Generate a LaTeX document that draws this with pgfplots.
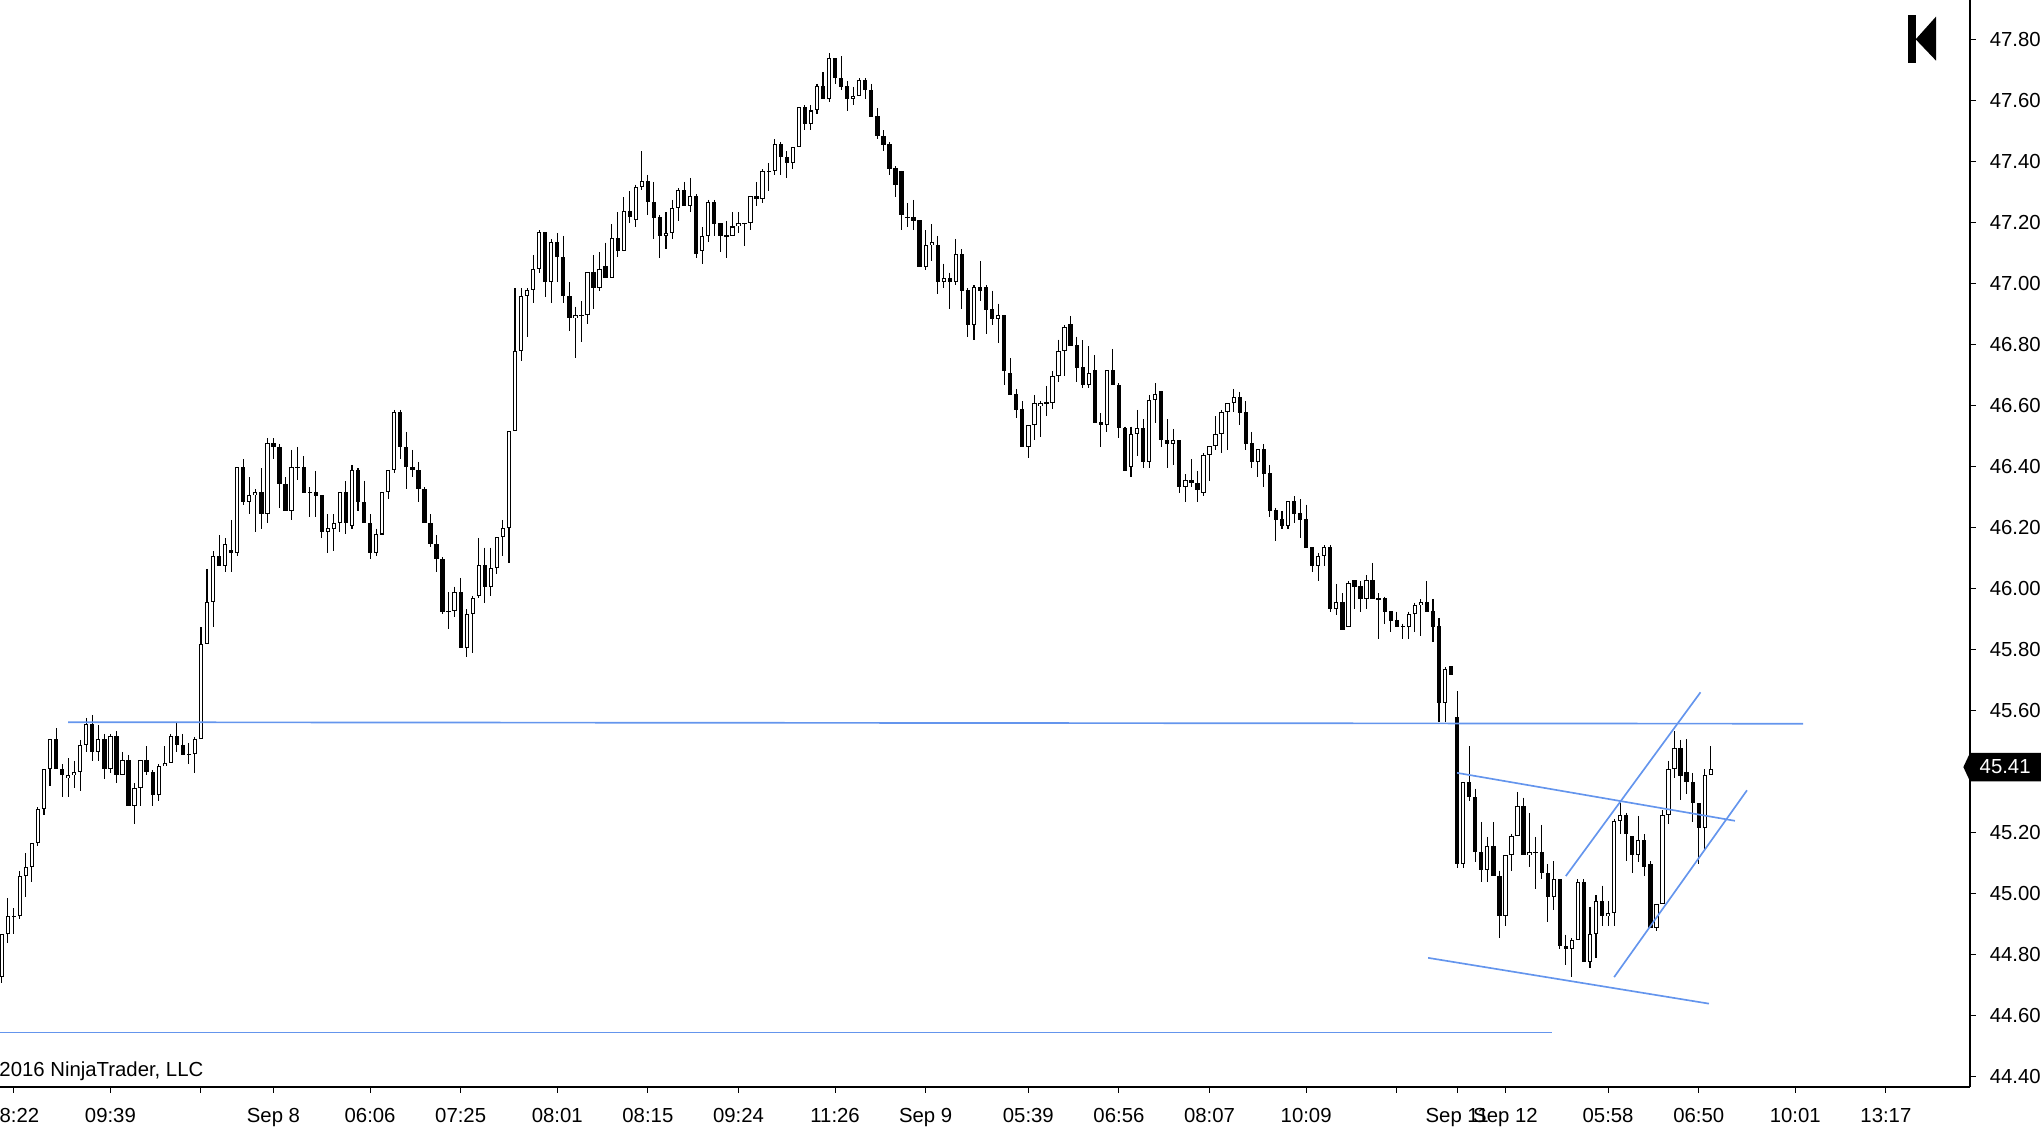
\documentclass[border=0pt]{standalone}
\usepackage{pgfplots}
\pgfplotsset{compat=1.18}
\usepackage{pgfplotstable}
\usepackage{fontspec}
\setmainfont{Liberation Sans}
\definecolor{drawblue}{RGB}{100,149,237}

\pgfplotstableread{
i o h l c
0 44.727 44.867 44.707 44.867
1 44.867 44.985 44.838 44.926
2 44.926 44.953 44.867 44.926
3 44.926 45.073 44.917 45.057
4 45.057 45.133 44.989 45.087
5 45.087 45.165 45.037 45.165
6 45.165 45.283 45.157 45.277
7 45.277 45.408 45.257 45.408
8 45.408 45.506 45.354 45.506
9 45.506 45.542 45.408 45.408
10 45.408 45.425 45.316 45.388
11 45.378 45.444 45.316 45.388
12 45.388 45.435 45.345 45.398
13 45.398 45.504 45.335 45.486
14 45.486 45.576 45.466 45.556
15 45.556 45.586 45.436 45.466
16 45.466 45.553 45.436 45.506
17 45.506 45.524 45.377 45.408
18 45.408 45.524 45.397 45.516
19 45.516 45.533 45.364 45.388
20 45.388 45.465 45.388 45.437
21 45.437 45.455 45.286 45.286
22 45.286 45.362 45.227 45.346
23 45.346 45.437 45.286 45.437
24 45.437 45.484 45.388 45.398
25 45.398 45.406 45.286 45.325
26 45.325 45.425 45.305 45.418
27 45.418 45.484 45.418 45.428
28 45.428 45.524 45.428 45.516
29 45.516 45.561 45.466 45.486
30 45.486 45.524 45.456 45.456
31 45.457 45.494 45.426 45.457
32 45.457 45.514 45.397 45.506
33 45.506 45.873 45.506 45.817
34 45.817 46.064 45.817 45.955
35 45.955 46.122 45.875 46.106
36 46.106 46.174 46.075 46.075
37 46.075 46.164 46.055 46.145
38 46.125 46.225 46.055 46.115
39 46.115 46.397 46.106 46.397
40 46.397 46.424 46.275 46.285
41 46.285 46.364 46.245 46.305
42 46.305 46.325 46.186 46.315
43 46.315 46.394 46.196 46.245
44 46.245 46.492 46.216 46.476
45 46.476 46.492 46.424 46.465
46 46.465 46.473 46.265 46.344
47 46.344 46.364 46.255 46.255
48 46.255 46.454 46.226 46.397
49 46.397 46.464 46.354 46.397
50 46.397 46.434 46.314 46.314
51 46.315 46.332 46.235 46.315
52 46.315 46.385 46.235 46.304
53 46.305 46.305 46.167 46.186
54 46.186 46.244 46.115 46.197
55 46.196 46.244 46.124 46.216
56 46.216 46.315 46.186 46.315
57 46.315 46.352 46.177 46.216
58 46.206 46.405 46.196 46.387
59 46.387 46.394 46.255 46.285
60 46.285 46.353 46.216 46.216
61 46.216 46.244 46.096 46.115
62 46.115 46.196 46.106 46.177
63 46.177 46.315 46.177 46.315
64 46.315 46.387 46.294 46.387
65 46.387 46.585 46.377 46.577
66 46.577 46.585 46.424 46.465
67 46.465 46.513 46.325 46.397
68 46.397 46.454 46.366 46.387
69 46.387 46.415 46.285 46.325
70 46.325 46.332 46.216 46.216
71 46.216 46.244 46.135 46.145
72 46.145 46.175 46.055 46.096
73 46.096 46.104 45.916 45.924
74 45.925 45.987 45.866 45.925
75 45.925 46.006 45.906 45.988
76 45.988 46.035 45.806 45.806
77 45.806 45.932 45.777 45.917
78 45.917 45.976 45.788 45.968
79 45.975 46.166 45.968 46.076
80 46.076 46.134 45.954 46.006
81 46.006 46.134 45.977 46.066
82 46.066 46.168 46.046 46.168
83 46.168 46.225 46.106 46.197
84 46.197 46.515 46.085 46.515
85 46.515 46.984 46.515 46.777
86 46.777 46.984 46.744 46.957
87 46.957 46.984 46.825 46.977
88 46.977 47.093 46.934 47.046
89 47.046 47.174 47.035 47.167
90 47.167 47.167 46.956 47.005
91 47.005 47.144 46.934 47.134
92 47.134 47.163 47.005 47.085
93 47.085 47.155 46.934 46.957
94 46.957 47.004 46.845 46.885
95 46.885 46.923 46.756 46.895
96 46.895 46.941 46.807 46.895
97 46.895 47.036 46.865 47.036
98 47.036 47.093 46.915 46.986
99 46.986 47.102 46.976 47.046
100 47.055 47.133 47.016 47.016
101 47.016 47.194 47.016 47.147
102 47.147 47.233 47.085 47.105
103 47.105 47.281 47.105 47.237
104 47.237 47.302 47.196 47.216
105 47.206 47.323 47.185 47.314
106 47.314 47.433 47.305 47.334
107 47.334 47.355 47.225 47.265
108 47.265 47.332 47.145 47.215
109 47.216 47.224 47.084 47.156
110 47.156 47.233 47.113 47.166
111 47.166 47.273 47.145 47.245
112 47.245 47.312 47.205 47.304
113 47.304 47.332 47.254 47.254
114 47.254 47.345 47.234 47.285
115 47.285 47.292 47.084 47.095
116 47.104 47.183 47.064 47.156
117 47.156 47.273 47.134 47.265
118 47.265 47.273 47.156 47.195
119 47.196 47.196 47.103 47.156
120 47.156 47.204 47.084 47.156
121 47.156 47.233 47.156 47.186
122 47.186 47.233 47.166 47.196
123 47.196 47.196 47.123 47.196
124 47.196 47.285 47.175 47.285
125 47.285 47.332 47.254 47.275
126 47.275 47.374 47.264 47.367
127 47.367 47.394 47.303 47.367
128 47.367 47.472 47.356 47.455
129 47.455 47.463 47.356 47.415
130 47.415 47.433 47.346 47.395
131 47.395 47.445 47.375 47.445
132 47.445 47.576 47.445 47.576
133 47.576 47.583 47.503 47.523
134 47.523 47.583 47.503 47.566
135 47.566 47.653 47.555 47.645
136 47.645 47.692 47.605 47.605
137 47.605 47.753 47.595 47.737
138 47.737 47.737 47.654 47.673
139 47.674 47.744 47.634 47.644
140 47.645 47.662 47.565 47.605
141 47.605 47.643 47.585 47.615
142 47.615 47.672 47.615 47.665
143 47.665 47.672 47.605 47.634
144 47.634 47.653 47.546 47.546
145 47.547 47.574 47.474 47.483
146 47.484 47.502 47.434 47.454
147 47.455 47.463 47.356 47.375
148 47.376 47.384 47.284 47.323
149 47.368 47.368 47.174 47.225
150 47.216 47.263 47.185 47.216
151 47.216 47.273 47.174 47.205
152 47.206 47.206 47.054 47.054
153 47.054 47.174 47.045 47.125
154 47.124 47.194 47.074 47.134
155 47.125 47.155 46.966 47.005
156 47.005 47.064 46.986 47.016
157 47.016 47.035 46.915 47.005
158 47.005 47.145 46.995 47.096
159 47.096 47.112 46.915 46.976
160 46.978 46.983 46.825 46.864
161 46.864 46.994 46.815 46.987
162 46.987 47.073 46.943 46.976
163 46.987 46.994 46.835 46.914
164 46.916 46.976 46.864 46.884
165 46.884 46.933 46.805 46.895
166 46.896 46.896 46.666 46.714
167 46.706 46.755 46.635 46.635
168 46.637 46.654 46.557 46.586
169 46.587 46.614 46.465 46.465
170 46.465 46.535 46.426 46.535
171 46.535 46.634 46.486 46.608
172 46.597 46.614 46.495 46.608
173 46.608 46.664 46.566 46.608
174 46.608 46.713 46.587 46.696
175 46.696 46.815 46.676 46.777
176 46.777 46.864 46.695 46.856
177 46.865 46.893 46.796 46.796
178 46.797 46.825 46.676 46.724
179 46.725 46.814 46.656 46.666
180 46.666 46.794 46.656 46.705
181 46.715 46.765 46.543 46.543
182 46.544 46.574 46.465 46.534
183 46.534 46.715 46.514 46.715
184 46.715 46.785 46.666 46.666
185 46.666 46.672 46.494 46.525
186 46.525 46.530 46.386 46.386
187 46.397 46.530 46.366 46.505
188 46.505 46.585 46.435 46.525
189 46.525 46.554 46.396 46.416
190 46.416 46.634 46.396 46.617
191 46.617 46.673 46.543 46.636
192 46.647 46.647 46.465 46.486
193 46.486 46.555 46.396 46.475
194 46.475 46.523 46.406 46.486
195 46.486 46.486 46.314 46.334
196 46.334 46.375 46.285 46.354
197 46.354 46.424 46.334 46.345
198 46.346 46.385 46.285 46.324
199 46.314 46.444 46.304 46.436
200 46.436 46.466 46.353 46.466
201 46.466 46.565 46.454 46.505
202 46.505 46.585 46.445 46.577
203 46.577 46.607 46.454 46.607
204 46.607 46.654 46.577 46.626
205 46.626 46.644 46.534 46.576
206 46.577 46.614 46.454 46.475
207 46.476 46.513 46.396 46.416
208 46.416 46.456 46.366 46.456
209 46.456 46.473 46.334 46.376
210 46.377 46.405 46.235 46.255
211 46.257 46.264 46.154 46.226
212 46.228 46.254 46.196 46.206
213 46.206 46.286 46.196 46.286
214 46.286 46.303 46.216 46.245
215 46.246 46.293 46.167 46.226
216 46.228 46.275 46.134 46.134
217 46.135 46.135 46.055 46.075
218 46.075 46.115 46.026 46.106
219 46.106 46.142 46.075 46.135
220 46.135 46.142 45.924 45.934
221 45.934 46.015 45.914 45.955
222 45.955 45.984 45.865 45.865
223 45.875 46.025 45.875 46.017
224 46.027 46.027 45.934 46.006
225 46.007 46.025 45.924 45.967
226 45.967 46.044 45.934 46.027
227 46.027 46.084 45.967 45.967
228 45.967 45.984 45.836 45.967
229 45.968 45.973 45.885 45.924
230 45.925 45.925 45.856 45.895
231 45.896 45.924 45.875 45.875
232 45.876 45.885 45.836 45.876
233 45.875 45.924 45.836 45.916
234 45.916 45.954 45.856 45.945
235 45.945 45.965 45.846 45.955
236 45.955 46.025 45.924 45.924
237 45.925 45.966 45.826 45.875
238 45.876 45.904 45.564 45.626
239 45.626 45.742 45.564 45.735
240 45.746 45.746 45.716 45.716
241 45.578 45.664 45.086 45.097
242 45.097 45.365 45.086 45.365
243 45.365 45.484 45.305 45.316
244 45.316 45.344 45.105 45.136
245 45.136 45.235 45.037 45.077
246 45.077 45.186 45.037 45.156
247 45.156 45.235 45.057 45.057
248 45.057 45.076 44.856 44.926
249 44.926 45.126 44.896 45.126
250 45.126 45.196 45.076 45.188
251 45.188 45.334 45.188 45.287
252 45.287 45.315 45.126 45.126
253 45.126 45.265 45.087 45.136
254 45.136 45.186 45.017 45.136
255 45.137 45.226 45.048 45.067
256 45.067 45.097 44.906 44.989
257 44.989 45.106 44.947 45.048
258 45.048 45.048 44.818 44.828
259 44.829 44.866 44.767 44.818
260 44.818 44.855 44.727 44.848
261 44.848 45.048 44.848 45.038
262 45.038 45.048 44.776 44.776
263 44.776 44.958 44.756 44.867
264 44.867 44.995 44.789 44.975
265 44.975 45.027 44.896 44.926
266 44.926 44.975 44.896 44.936
267 44.936 45.245 44.896 45.238
268 45.238 45.296 45.195 45.257
269 45.257 45.265 45.106 45.196
270 45.188 45.188 45.067 45.126
271 45.126 45.255 45.105 45.175
272 45.175 45.195 45.057 45.087
273 45.098 45.106 44.888 44.888
274 44.888 44.966 44.877 44.966
275 44.966 45.275 44.966 45.257
276 45.257 45.435 45.227 45.408
277 45.408 45.533 45.378 45.477
278 45.477 45.504 45.307 45.387
279 45.398 45.506 45.326 45.365
280 45.365 45.396 45.236 45.296
281 45.296 45.296 45.097 45.217
282 45.217 45.408 45.146 45.388
283 45.388 45.484 45.388 45.410
}\candles

\begin{document}
\begin{tikzpicture}
\begin{axis}[
  scale only axis, width=591pt, height=326.1pt,
  xmin=-0.2815, xmax=325.93, ymin=44.367, ymax=47.928,
  axis x line*=bottom, axis y line*=right,
  axis line style={-, black, line width=0.35pt},
  tick align=outside, major tick length=1.7pt,
  tick style={black, line width=0.3pt},
  xtick={2,18,33,45,61,76,92,107,122,138,153,170,185,200,216,231,241,249,266,281,297,312},
  xticklabels={08:22,09:39,,Sep 8,06:06,07:25,08:01,08:15,09:24,11:26,Sep 9,05:39,06:56,08:07,10:09,,Sep 11,Sep 12,05:58,06:50,10:01,13:17},
  ytick={44.4,44.6,44.8,45.0,45.2,45.4,45.6,45.8,46.0,46.2,46.4,46.6,46.8,47.0,47.2,47.4,47.6,47.8},
  yticklabels={44.40,44.60,44.80,45.00,45.20,45.40,45.60,45.80,46.00,46.20,46.40,46.60,46.80,47.00,47.20,47.40,47.60,47.80},
  ticklabel style={font=\fontsize{6.1}{7}\selectfont},
  xticklabel style={anchor=base, yshift=-9.06pt},
  yticklabel style={anchor=west, xshift=0.7pt},
]
% wicks
\addplot[draw=none, mark=none, forget plot,
  error bars/.cd, y dir=minus, y explicit, error mark=none,
  error bar style={black, line width=0.32pt}]
  table[x=i, y=h, y error expr={\thisrow{h}-\thisrow{l}}] {\candles};
% bearish bodies
\addplot[draw=none, mark=none, forget plot,
  error bars/.cd, y dir=both, y explicit, error mark=none,
  error bar style={black, line width=1.29pt}]
  table[x=i, y expr={(\thisrow{o}+\thisrow{c})/2}, y error expr={max(\thisrow{o}-\thisrow{c},0)/2}] {\candles};
% bullish bodies (outline)
\addplot[draw=none, mark=none, forget plot,
  error bars/.cd, y dir=both, y explicit, error mark=none,
  error bar style={black, line width=1.29pt}]
  table[x=i, y expr={(\thisrow{o}+\thisrow{c})/2}, y error expr={max((\thisrow{c}-\thisrow{o})/2,0.0017)}] {\candles};
% bullish bodies (white inside)
\addplot[draw=none, mark=none, forget plot,
  error bars/.cd, y dir=both, y explicit, error mark=none,
  error bar style={white, line width=0.69pt}]
  table[x=i, y expr={(\thisrow{o}+\thisrow{c})/2}, y error expr={max((\thisrow{c}-\thisrow{o})/2-0.0033,0)}] {\candles};
% drawn lines
\addplot[drawblue, line width=0.5pt, forget plot] coordinates {(10.98,45.562) (298.3,45.557)};
\addplot[drawblue, line width=0.5pt, forget plot] coordinates {(-1,44.545) (256.7,44.545)};
\addplot[drawblue, line width=0.5pt, forget plot] coordinates {(241.0,45.396) (287.0,45.239)};
\addplot[drawblue, line width=0.5pt, forget plot] coordinates {(236.2,44.790) (282.7,44.640)};
\addplot[drawblue, line width=0.5pt, forget plot] coordinates {(259.0,45.058) (281.3,45.660)};
\addplot[drawblue, line width=0.5pt, forget plot] coordinates {(267.0,44.727) (289.0,45.339)};
\coordinate (tagpt) at (axis cs:325.93,45.415);
\end{axis}
% last price tag
\fill[black] ([xshift=-2pt]tagpt) -- ([yshift=4.26pt]tagpt) -- ([xshift=25pt,yshift=4.26pt]tagpt) -- ([xshift=25pt,yshift=-4.26pt]tagpt) -- ([yshift=-4.26pt]tagpt) -- cycle;
\node[anchor=west, inner sep=0pt, text=white, font=\fontsize{6.1}{7}\selectfont] at ([xshift=2.7pt]tagpt) {45.41};
% logo
\fill[black] (572.5pt,307.3pt) rectangle (574.7pt,321.6pt);
\fill[black] (574.7pt,314.3pt) -- (580.8pt,321.1pt) -- (580.8pt,307.9pt) -- cycle;
% copyright
\node[anchor=base east, inner sep=0pt, font=\fontsize{6.1}{7}\selectfont] at (61.2pt,3.24pt) {\textcopyright\ 2016 NinjaTrader, LLC};
\pgfresetboundingbox
\useasboundingbox (0,-12.6pt) rectangle (612.3pt,326.1pt);
\end{tikzpicture}
\end{document}
